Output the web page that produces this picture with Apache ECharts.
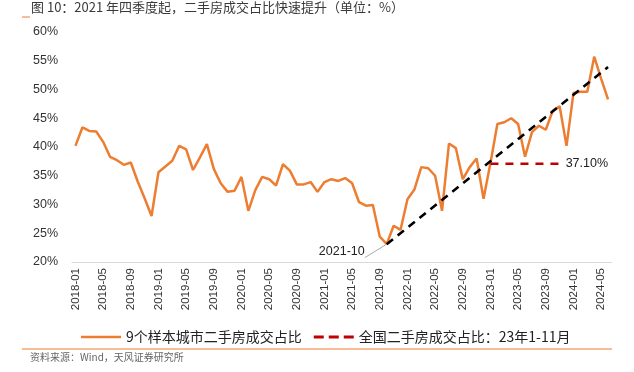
<!DOCTYPE html>
<html><head><meta charset="utf-8">
<script src="https://cdn.jsdelivr.net/npm/echarts@6/dist/echarts.min.js"></script>
<style>html,body{margin:0;padding:0;background:#fff}#c{width:634px;height:372px}</style>
</head><body><div id="c"></div>
<script>
// categories: monthly 2018-01 .. 2024-06
var categories = [];
for (var y = 2018; y <= 2024; y++) {
  for (var m = 1; m <= 12; m++) {
    if (y === 2024 && m > 6) break;
    categories.push(y + '-' + (m < 10 ? '0' + m : '' + m));
  }
}
// 9个样本城市二手房成交占比 (%)
var sampleShare = [
  40.2, 43.4, 42.8, 42.7, 40.9, 38.3, 37.7, 36.9, 37.3, 34.0, 31.1, 28.0,
  35.6, 36.6, 37.6, 40.2, 39.6, 36.0, 38.2, 40.5, 36.2, 33.7, 32.2, 32.4,
  34.8, 28.9, 32.5, 34.8, 34.4, 33.3, 37.0, 35.9, 33.5, 33.5, 33.9, 32.2,
  33.9, 34.4, 34.1, 34.6, 33.7, 30.4, 29.8, 29.9, 24.4, 23.1, 26.3, 25.6,
  30.9, 32.6, 36.5, 36.3, 35.0, 28.9, 40.6, 39.8, 34.4, 36.5, 38.0, 31.0,
  37.2, 44.0, 44.3, 45.0, 44.0, 38.3, 42.6, 43.7, 43.0, 46.3, 47.1, 40.2,
  49.4, 49.6, 49.6, 55.7, 51.9, 48.3
];
// 全国二手房成交占比：23年1-11月
var nationalMonths = ['2023-01','2023-02','2023-03','2023-04','2023-05','2023-06','2023-07','2023-08','2023-09','2023-10','2023-11'];
var nationalValue = 37.1;
// trend arrow endpoints
var arrowStart = ['2021-10', 23.1];
var arrowEnd = ['2024-06', 53.9];
var yTicks = [20, 25, 30, 35, 40, 45, 50, 55, 60];

var nationalData = categories.map(function (c) {
  return nationalMonths.indexOf(c) >= 0 ? nationalValue : null;
});
var sampleData = sampleShare.map(function (v, i) {
  if (categories[i] === '2021-10') {
    return {
      value: v,
      label: { show: true, formatter: '2021-10', position: 'left', distance: 22, offset: [0, 7],
        fontSize: 12.5, color: '#222', fontFamily: 'Liberation Sans' },
      labelLine: { show: true, lineStyle: { color: '#aaa', width: 1 } }
    };
  }
  return v;
});
var natLast = categories.indexOf(nationalMonths[nationalMonths.length - 1]);
nationalData[natLast] = {
  value: nationalValue,
  label: { show: true, position: 'right', distance: 6, formatter: function () { return nationalValue.toFixed(2) + '%'; },
    fontSize: 12.5, color: '#222', fontFamily: 'Liberation Sans' }
};

var chart = echarts.init(document.getElementById('c'), null, { renderer: 'canvas' });
chart.setOption({
  animation: false,
  textStyle: { fontFamily: 'Liberation Sans, Noto Sans CJK SC' },
  title: {
    text: '图 10：2021 年四季度起，二手房成交占比快速提升（单位：%）',
    left: 26, top: -4,
    textStyle: { fontSize: 13, fontWeight: 'normal', color: '#3a3a3a', fontFamily: 'Noto Sans CJK SC' }
  },
  grid: { left: 72, right: 22.5, top: 32, bottom: 110, containLabel: false },
  legend: {
    left: 76, top: 325, itemWidth: 40, itemHeight: 12, itemGap: 12,
    textStyle: { fontSize: 14, color: '#222', fontFamily: 'Noto Sans CJK SC' },
    data: [
      { name: '9个样本城市二手房成交占比', icon: 'path://M0,5L40,5L40,7.5L0,7.5Z' },
      { name: '全国二手房成交占比：23年1-11月', icon: 'path://M0,5L10,5L10,8L0,8Z M15,5L25,5L25,8L15,8Z M30,5L40,5L40,8L30,8Z' }
    ]
  },
  xAxis: {
    type: 'category', data: categories, boundaryGap: true,
    axisLine: { lineStyle: { color: '#d9d9d9', width: 1 } },
    axisTick: { interval: 3, length: 5, lineStyle: { color: '#d9d9d9' } },
    axisLabel: { interval: 3, rotate: 90, fontSize: 11.5, color: '#333', margin: 6, fontFamily: 'Liberation Sans' },
    splitLine: { show: false }
  },
  yAxis: {
    type: 'value', min: yTicks[0], max: yTicks[yTicks.length - 1], interval: 5,
    axisLine: { show: false }, axisTick: { show: false }, splitLine: { show: false },
    axisLabel: { formatter: '{value}%', fontSize: 12.5, color: '#333', margin: 14, fontFamily: 'Liberation Sans' }
  },
  series: [
    {
      name: '9个样本城市二手房成交占比', type: 'line', data: sampleData,
      symbol: 'circle', symbolSize: 0, showSymbol: true, z: 3,
      lineStyle: { color: '#ED7D31', width: 2.5 }, itemStyle: { color: '#ED7D31' },
      markLine: {
        silent: true, symbol: ['none', 'arrow'], symbolSize: [0, 13],
        label: { show: false },
        lineStyle: { color: '#000', width: 2.6, type: [8, 6] },
        data: [[{ coord: arrowStart }, { coord: arrowEnd }]]
      }
    },
    {
      name: '全国二手房成交占比：23年1-11月', type: 'line', data: nationalData,
      symbol: 'circle', symbolSize: 0, showSymbol: true, z: 4, connectNulls: false,
      lineStyle: { color: '#C00000', width: 2.6, type: [8, 7] }, itemStyle: { color: '#C00000' }
    }
  ],
  graphic: [
    { type: 'line', shape: { x1: 22, y1: 17, x2: 30, y2: 17 }, style: { stroke: '#ED7D31', lineWidth: 1 } },
    { type: 'line', shape: { x1: 22, y1: 349, x2: 612, y2: 349 }, style: { stroke: '#ED7D31', lineWidth: 1.2 } },
    { type: 'text', left: 30, top: 352, style: { text: '资料来源：Wind，天风证券研究所', fontSize: 10, fill: '#666', fontFamily: 'Noto Sans CJK SC' } }
  ]
});
</script></body></html>
